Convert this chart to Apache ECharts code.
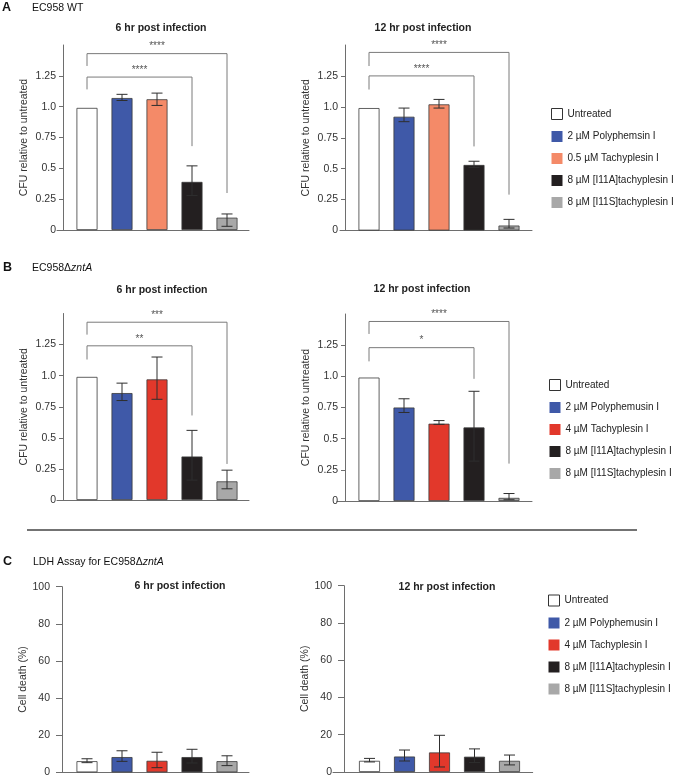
<!DOCTYPE html>
<html><head><meta charset="utf-8">
<script src="https://cdn.jsdelivr.net/npm/echarts@6/dist/echarts.min.js"></script>
<style>html,body{margin:0;padding:0;background:#fff}#c{width:676px;height:778px}</style>
</head><body><div id="c"></div>
<script>
const FONT = '"Liberation Sans", Arial, Helvetica, sans-serif';

// ---------- data ----------
const xPositions = [1, 2, 3, 4, 5];
const legendNamesA = ['Untreated', '2 µM Polyphemsin I', '0.5 µM Tachyplesin I', '8 µM [I11A]tachyplesin I', '8 µM [I11S]tachyplesin I'];
const legendNamesBC = ['Untreated', '2 µM Polyphemusin I', '4 µM Tachyplesin I', '8 µM [I11A]tachyplesin I', '8 µM [I11S]tachyplesin I'];
const colorsA = ['#ffffff', '#3f59a8', '#f48a68', '#231f20', '#a8a8a8'];
const colorsBC = ['#ffffff', '#3f59a8', '#e2382b', '#231f20', '#a8a8a8'];

const cfuTickValues = [0, 0.25, 0.5, 0.75, 1, 1.25];
const cfuTickLabels = ['0', '0.25', '0.5', '0.75', '1.0', '1.25'];
const ldhTickValues = [0, 20, 40, 60, 80, 100];
const ldhTickLabels = ['0', '20', '40', '60', '80', '100'];

// A: EC958 WT
const a6Mean = [0.99, 1.07, 1.06, 0.39, 0.10];
const a6Lo   = [null, 1.05, 1.01, 0.28, 0.03];
const a6Hi   = [null, 1.10, 1.11, 0.52, 0.13];
const a6Brackets = [[1, 5, 1.43, 1.33, 0.30], [1, 4, 1.24, 1.14, 0.68]];
const a6Stars = ['****', '****'];

const a12Mean = [0.99, 0.92, 1.02, 0.53, 0.04];
const a12Lo   = [null, 0.88, 0.99, 0.51, 0.02];
const a12Hi   = [null, 0.99, 1.06, 0.56, 0.09];
const a12Brackets = [[1, 5, 1.44, 1.33, 0.29], [1, 4, 1.25, 1.14, 0.68]];
const a12Stars = ['****', '****'];

// B: EC958 delta zntA
const b6Mean = [0.99, 0.86, 0.97, 0.35, 0.15];
const b6Lo   = [null, 0.80, 0.81, 0.16, 0.09];
const b6Hi   = [null, 0.94, 1.15, 0.56, 0.24];
const b6Brackets = [[1, 5, 1.43, 1.33, 0.29], [1, 4, 1.24, 1.13, 0.68]];
const b6Stars = ['***', '**'];

const b12Mean = [0.99, 0.75, 0.62, 0.59, 0.025];
const b12Lo   = [null, 0.71, 0.615, 0.32, 0.01];
const b12Hi   = [null, 0.82, 0.645, 0.88, 0.06];
const b12Brackets = [[1, 5, 1.44, 1.34, 0.30], [1, 4, 1.23, 1.12, 0.98]];
const b12Stars = ['****', '*'];

// C: LDH assay
const c6Mean = [6.0, 8.2, 6.2, 8.2, 6.0];
const c6Lo   = [5.2, 5.9, 2.5, 5.0, 3.6];
const c6Hi   = [7.3, 11.6, 10.8, 12.4, 8.9];

const c12Mean = [6.0, 8.3, 10.5, 8.2, 6.0];
const c12Lo   = [5.4, 5.9, 2.7, 5.1, 3.8];
const c12Hi   = [7.3, 11.8, 19.7, 12.4, 9.1];

// ---------- layout ----------
const BAR_STEP = 35; // px between bar centres
const panels = [
  {mean: a6Mean, lo: a6Lo, hi: a6Hi, br: a6Brackets, stars: a6Stars, names: legendNamesA, colors: colorsA, kind: 'cfu',
   grid: {left: 57, top: 45, width: 192, height: 185}, yAxisX: 63, firstCenter: 87, nameGap: 33,
   title: '6 hr post infection', titleX: 161, titleY: 28},
  {mean: a12Mean, lo: a12Lo, hi: a12Hi, br: a12Brackets, stars: a12Stars, names: legendNamesA, colors: colorsA, kind: 'cfu',
   grid: {left: 340, top: 45, width: 192, height: 185.5}, yAxisX: 345, firstCenter: 369, nameGap: 33,
   title: '12 hr post infection', titleX: 423, titleY: 28},
  {mean: b6Mean, lo: b6Lo, hi: b6Hi, br: b6Brackets, stars: b6Stars, names: legendNamesBC, colors: colorsBC, kind: 'cfu',
   grid: {left: 57, top: 313.5, width: 192, height: 186.5}, yAxisX: 63, firstCenter: 87, nameGap: 33,
   title: '6 hr post infection', titleX: 162, titleY: 290},
  {mean: b12Mean, lo: b12Lo, hi: b12Hi, br: b12Brackets, stars: b12Stars, names: legendNamesBC, colors: colorsBC, kind: 'cfu',
   grid: {left: 337, top: 314, width: 195, height: 187}, yAxisX: 345, firstCenter: 369, nameGap: 33,
   title: '12 hr post infection', titleX: 422, titleY: 289},
  {mean: c6Mean, lo: c6Lo, hi: c6Hi, br: [], stars: [], names: legendNamesBC, colors: colorsBC, kind: 'ldh',
   grid: {left: 57, top: 586.7, width: 192, height: 185.6}, yAxisX: 62, firstCenter: 87, nameGap: 32,
   title: '6 hr post infection', titleX: 180, titleY: 586},
  {mean: c12Mean, lo: c12Lo, hi: c12Hi, br: [], stars: [], names: legendNamesBC, colors: colorsBC, kind: 'ldh',
   grid: {left: 333, top: 585.7, width: 199.7, height: 186.3}, yAxisX: 344, firstCenter: 369.5, nameGap: 32,
   title: '12 hr post infection', titleX: 447, titleY: 587.5}
];

const AXIS_COLOR = '#6e6e6e';
const grids = [], xAxes = [], yAxes = [], series = [], graphics = [];

panels.forEach((p, i) => {
  grids.push(Object.assign({outerBoundsMode: 'none', containLabel: false}, p.grid));
  const xMin = 1 - (p.firstCenter - p.grid.left) / BAR_STEP;
  const xMax = xMin + p.grid.width / BAR_STEP;
  xAxes.push({
    gridIndex: i, type: 'value', min: xMin, max: xMax,
    axisLine: {show: true, onZero: false, lineStyle: {color: AXIS_COLOR, width: 1}},
    axisTick: {show: false}, axisLabel: {show: false}, splitLine: {show: false}
  });
  const cfu = p.kind === 'cfu';
  const tv = cfu ? cfuTickValues : ldhTickValues;
  const tl = cfu ? cfuTickLabels : ldhTickLabels;
  yAxes.push({
    gridIndex: i, type: 'value', min: 0, max: cfu ? 1.5 : 100, interval: cfu ? 0.25 : 20,
    offset: -(p.yAxisX - p.grid.left),
    name: cfu ? 'CFU relative to untreated' : 'Cell death (%)',
    nameLocation: 'middle', nameGap: p.nameGap,
    nameTextStyle: {fontFamily: FONT, fontSize: 10.5, color: '#333'},
    axisLine: {show: true, onZero: false, lineStyle: {color: AXIS_COLOR, width: 1}},
    axisTick: {show: true, length: cfu ? 4 : 6, customValues: tv, lineStyle: {color: AXIS_COLOR}},
    axisLabel: {
      customValues: tv, margin: cfu ? 7 : 12, fontFamily: FONT, fontSize: 10.5, color: '#333',
      formatter: v => { const k = tv.findIndex(t => Math.abs(t - v) < 1e-9); return k < 0 ? '' : tl[k]; }
    },
    splitLine: {show: false}
  });
  // bars (one series per treatment so the legend can use them)
  p.names.forEach((nm, j) => {
    series.push({
      type: 'bar', name: nm, xAxisIndex: i, yAxisIndex: i,
      data: [[xPositions[j], p.mean[j]]],
      barWidth: 21, barGap: '-100%', silent: true,
      itemStyle: {color: p.colors[j], borderColor: '#3a3a3a', borderWidth: 0.8}
    });
  });
  // error bars
  const errData = [];
  xPositions.forEach((x, j) => { if (p.lo[j] != null) errData.push([x, p.lo[j], p.hi[j]]); });
  series.push({
    type: 'custom', xAxisIndex: i, yAxisIndex: i, data: errData, silent: true, z: 5,
    encode: {x: 0, y: [1, 2]},
    renderItem: (params, api) => {
      const x = api.value(0);
      const a = api.coord([x, api.value(1)]);
      const b = api.coord([x, api.value(2)]);
      const hw = 5.5;
      const st = {stroke: '#2e2e2e', lineWidth: 1};
      return {type: 'group', children: [
        {type: 'line', shape: {x1: a[0], y1: a[1], x2: b[0], y2: b[1]}, style: st},
        {type: 'line', shape: {x1: a[0] - hw, y1: a[1], x2: a[0] + hw, y2: a[1]}, style: st},
        {type: 'line', shape: {x1: b[0] - hw, y1: b[1], x2: b[0] + hw, y2: b[1]}, style: st}
      ]};
    }
  });
  // significance brackets
  if (p.br.length) {
    const stars = p.stars;
    series.push({
      type: 'custom', xAxisIndex: i, yAxisIndex: i, data: p.br, silent: true, z: 4,
      encode: {x: [0, 1], y: [2, 3, 4]},
      renderItem: (params, api) => {
        const x1 = api.value(0), x2 = api.value(1), y = api.value(2);
        const pl = api.coord([x1, api.value(3)]);
        const pt1 = api.coord([x1, y]);
        const pt2 = api.coord([x2, y]);
        const pr = api.coord([x2, api.value(4)]);
        const mid = api.coord([(x1 + x2) / 2, y]);
        return {type: 'group', children: [
          {type: 'polyline', shape: {points: [pl, pt1, pt2, pr]}, style: {stroke: '#7a7a7a', lineWidth: 1, fill: null}},
          {type: 'text', x: mid[0], y: mid[1] - 2, style: {text: stars[params.dataIndex], align: 'center', verticalAlign: 'bottom',
            fontFamily: FONT, fontSize: 10, fill: '#555'}}
        ]};
      }
    });
  }
  graphics.push({type: 'text', x: p.titleX, y: p.titleY, silent: true,
    style: {text: p.title, align: 'center', verticalAlign: 'middle', fontFamily: FONT, fontSize: 10.5, fontWeight: 'bold', fill: '#222'}});
});

function legendData(names) {
  return names.map((n, j) => ({name: n, itemStyle: j === 0 ? {color: '#fff', borderColor: '#333', borderWidth: 1} : {borderWidth: 0}}));
}
const legendBase = {orient: 'vertical', itemWidth: 11, itemHeight: 11, itemGap: 11, icon: 'rect', padding: 0,
  selectedMode: false, textStyle: {fontFamily: FONT, fontSize: 10, color: '#222'}};
const legends = [
  Object.assign({data: legendData(legendNamesA), left: 551, top: 108}, legendBase),
  Object.assign({data: legendData(legendNamesBC), left: 549, top: 379}, legendBase),
  Object.assign({data: legendData(legendNamesBC), left: 548, top: 594.5}, legendBase)
];

// panel headers and divider
const hdr = (x, y, text, bold, size) => ({type: 'text', x, y, silent: true, style: {
  text, align: 'left', verticalAlign: 'middle', fontFamily: FONT, fontSize: size, fontWeight: bold ? 'bold' : 'normal', fill: '#111',
  rich: {i: {fontStyle: 'italic', fontFamily: FONT, fontSize: size, fill: '#111'}}}});
graphics.push(hdr(2, 8, 'A', true, 12.5));
graphics.push(hdr(32, 8, 'EC958 WT', false, 10.5));
graphics.push(hdr(3, 268, 'B', true, 12.5));
graphics.push(hdr(32, 268, 'EC958Δ{i|zntA}', false, 10.5));
graphics.push(hdr(3, 562, 'C', true, 12.5));
graphics.push(hdr(33, 562, 'LDH Assay for EC958Δ{i|zntA}', false, 10.5));
graphics.push({type: 'line', silent: true, shape: {x1: 27, y1: 530, x2: 637, y2: 530}, style: {stroke: '#444', lineWidth: 1.5}});

const chart = echarts.init(document.getElementById('c'), null, {renderer: 'canvas'});
chart.setOption({
  animation: false,
  backgroundColor: '#fff',
  textStyle: {fontFamily: FONT},
  grid: grids, xAxis: xAxes, yAxis: yAxes, series: series,
  legend: legends, graphic: graphics, tooltip: {show: false}
});
</script>
</body></html>
